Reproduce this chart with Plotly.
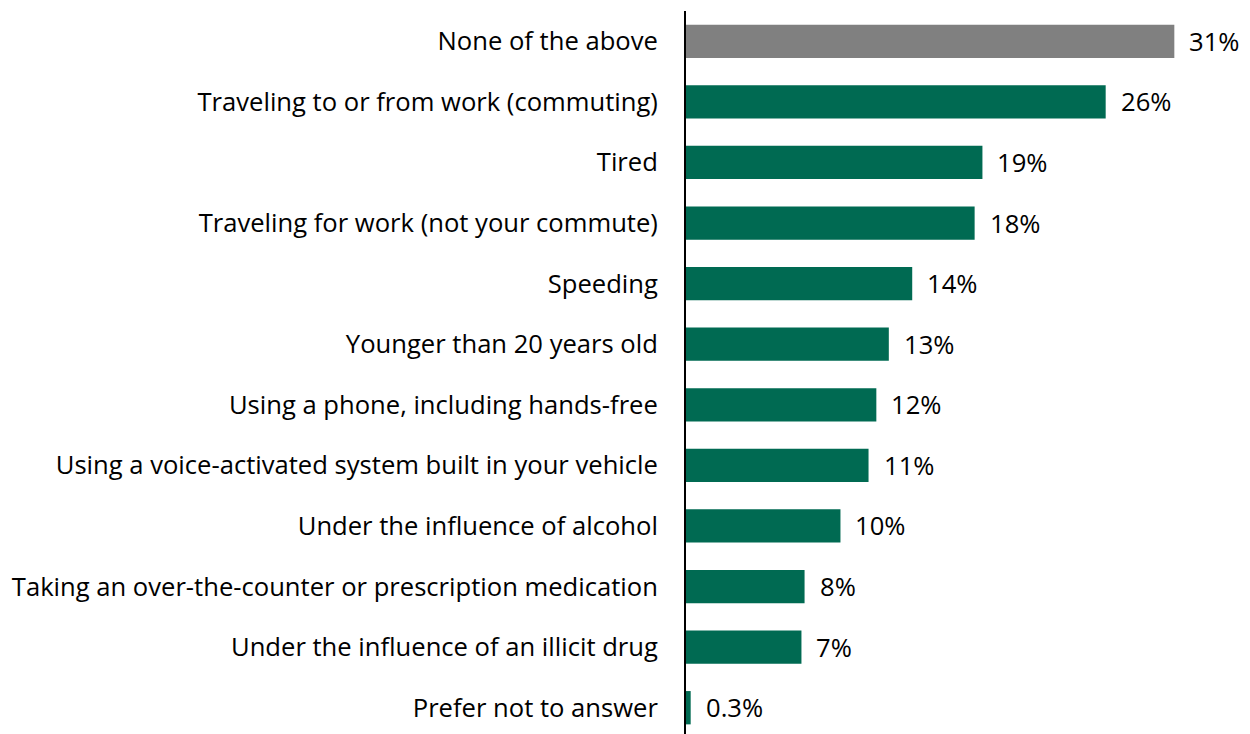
import plotly.graph_objects as go

categories = [
    "None of the above",
    "Traveling to or from work (commuting)",
    "Tired",
    "Traveling for work (not your commute)",
    "Speeding",
    "Younger than 20 years old",
    "Using a phone, including hands-free",
    "Using a voice-activated system built in your vehicle",
    "Under the influence of alcohol",
    "Taking an over-the-counter or prescription medication",
    "Under the influence of an illicit drug",
    "Prefer not to answer",
]
values = [31.3, 26.9, 19.0, 18.5, 14.5, 13.0, 12.2, 11.7, 9.9, 7.6, 7.4, 0.3]
value_labels = ["31%", "26%", "19%", "18%", "14%", "13%", "12%", "11%", "10%", "8%", "7%", "0.3%"]
colors = ["#808080"] + ["#006A52"] * 11

FONT = "Open Sans"
FS = 25.6

fig = go.Figure()
fig.add_trace(go.Bar(
    x=values,
    y=categories,
    orientation="h",
    marker=dict(color=colors, line=dict(width=0)),
    width=0.55,
    hoverinfo="skip",
))

for v, c, t in zip(values, categories, value_labels):
    fig.add_annotation(
        x=v, y=c, text=t, showarrow=False, xanchor="left", yanchor="middle",
        xshift=13, font=dict(family=FONT, size=FS, color="#000000"),
    )

fig.update_layout(
    width=1242, height=730,
    margin=dict(l=678, r=0, t=3, b=0),
    paper_bgcolor="white", plot_bgcolor="white",
    showlegend=False,
    font=dict(family=FONT, size=FS, color="#000000"),
    xaxis=dict(range=[0, 36.15], visible=False, fixedrange=True),
    yaxis=dict(
        categoryorder="array", categoryarray=categories[::-1],
        range=[-0.5, 11.5],
        showline=True, linecolor="#000000", linewidth=2,
        showgrid=False, zeroline=False,
        ticks="outside", ticklen=0, ticklabelstandoff=21,
        tickfont=dict(family=FONT, size=FS, color="#000000"),
        fixedrange=True,
    ),
)

fig.write_html("out.html")
